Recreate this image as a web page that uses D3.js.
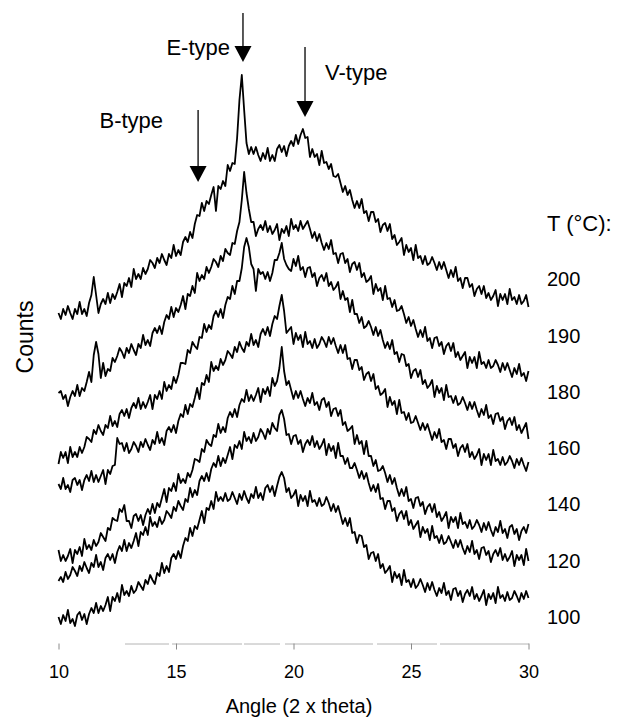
<!DOCTYPE html>
<html>
<head>
<meta charset="utf-8">
<script src="https://cdn.jsdelivr.net/npm/d3@7"></script>
<style>
body { margin: 0; background: #fff; }
text { font-family: "Liberation Sans", Arial, Helvetica, sans-serif; fill: #000; }
</style>
</head>
<body>
<script>
// XRD scans, 2-theta from 10 to 30 in 0.1 steps, curves offset by temperature
var angleStart = 10, angleStep = 0.1;
var temps = ["200", "190", "180", "160", "140", "120", "100"];

var counts200 = [
  330,324,334,328,337,330,324,334,329,341, 329,334,327,340,348,366,348,330,339,344,
  339,350,340,349,344,351,359,346,360,357, 365,356,374,364,369,364,375,369,374,383,
  380,375,385,380,389,383,378,389,385,398, 387,393,388,401,406,401,411,405,419,428,
  427,440,432,442,439,448,456,432,457,454, 462,457,478,472,480,479,505,543,568,533,
  500,489,496,489,496,488,482,490,484,495, 482,488,482,494,498,491,497,487,497,502,
  497,508,499,508,514,505,506,486,494,486, 489,478,492,480,481,474,479,467,466,469,
  460,451,457,448,453,443,435,442,435,444, 430,432,422,431,431,421,424,411,418,420,
  412,419,404,408,398,401,405,388,398,391, 395,383,398,385,387,379,387,378,380,386,
  380,373,381,374,381,373,365,373,366,376, 362,365,355,365,365,356,359,347,354,357,
  349,357,345,350,343,347,353,337,349,343, 349,339,354,343,346,339,348,339,342,348,
  336];
var counts190 = [
  250,252,244,248,237,246,252,247,258,247, 255,252,261,271,261,288,301,289,265,280,
  267,274,272,285,281,287,295,291,285,295, 290,299,293,288,299,295,308,298,303,297,
  310,315,310,317,309,321,328,324,336,326, 335,331,338,347,334,349,347,357,350,370,
  362,368,364,376,370,376,384,381,376,387, 382,394,390,388,400,399,412,421,443,471,
  450,434,421,421,407,414,418,413,422,411, 417,409,413,419,403,414,410,417,407,424,
  414,418,412,422,414,418,422,414,405,411, 402,409,400,393,400,394,403,389,390,380,
  389,390,380,384,371,379,381,373,380,366, 370,361,363,367,349,359,352,355,343,357,
  344,345,336,343,332,333,337,329,320,326, 317,323,314,306,313,306,316,302,305,295,
  305,306,297,301,289,297,300,292,300,286, 291,283,287,291,275,286,280,286,275,291,
  279,281,275,283,275,277,283,278,271,280, 273,280,273,266,275,269,279,267,270,262,
  272];
var counts180 = [
  179,191,185,191,180,196,186,191,186,196, 190,196,206,204,201,213,209,218,212,208,
  218,215,227,217,222,216,229,233,227,234, 225,235,240,235,245,234,241,235,241,248,
  234,248,244,252,244,261,252,258,254,266, 260,268,280,280,279,293,290,301,297,294,
  306,305,319,311,318,314,327,332,326,334, 325,338,346,344,357,349,362,362,375,396,
  405,396,379,374,352,374,369,371,364,371, 362,370,383,383,390,400,384,378,374,372,
  384,377,387,373,376,366,375,376,366,370, 357,365,368,362,370,357,361,353,356,361,
  344,352,343,345,331,343,329,329,320,326, 315,317,322,316,308,316,307,313,303,295,
  301,294,303,289,291,281,289,288,277,279, 265,272,274,266,273,259,263,255,258,263,
  246,257,250,255,243,258,246,247,240,247, 238,240,246,240,233,241,234,241,233,226,
  234,228,238,225,228,219,229,230,222,226, 214,222,225,218,226,213,218,210,215,220,
  204];
var counts160 = [
  159,154,165,154,158,151,163,165,158,163, 153,163,168,162,172,161,168,161,167,173,
  159,173,169,177,178,205,199,200,192,200, 190,194,201,197,191,201,196,204,198,193,
  203,199,211,200,205,198,212,216,211,218, 210,222,229,226,238,229,239,236,245,255,
  244,260,258,268,261,281,272,277,273,284, 278,283,292,289,285,296,291,301,295,291,
  301,297,309,298,303,296,309,314,308,316, 307,319,327,324,337,348,332,310,313,316,
  299,310,303,308,296,311,299,302,295,304, 295,299,306,302,296,306,299,305,297,290,
  298,290,298,284,285,274,283,283,273,276, 263,269,271,262,269,254,257,248,250,254,
  236,246,238,242,229,243,230,231,223,230, 220,221,227,220,213,220,213,219,211,203,
  211,205,214,201,203,194,204,204,195,199, 187,195,198,191,199,186,191,184,188,194,
  178,189,183,189,178,193,182,184,178,186, 178,181,187,182,175,184,178,185,178,172,
  181];
var counts140 = [
  93,82,88,82,87,94,80,93,89,96, 87,104,94,98,93,103,97,101,110,106,
  102,115,113,125,123,122,134,131,138,122, 122,115,127,129,122,128,118,128,134,129,
  139,130,140,136,145,154,141,155,152,160, 152,169,160,164,160,170,166,173,184,183,
  181,194,191,203,199,197,208,206,219,210, 216,211,225,231,226,234,226,238,244,241,
  253,242,248,242,248,255,241,254,249,256, 247,265,257,262,275,296,272,258,262,253,
  244,252,245,252,244,237,245,240,250,238, 241,233,243,245,236,241,227,234,235,227,
  233,218,221,212,214,217,199,208,199,202, 189,202,187,187,177,183,172,173,177,170,
  161,168,159,165,155,147,154,147,156,142, 144,135,145,146,137,141,129,136,139,131,
  139,126,131,122,126,131,115,126,121,126, 115,130,119,121,115,123,114,117,123,118,
  111,120,113,121,113,107,116,111,122,110, 114,105,116,118,109,114,103,112,116,110,
  119];
var counts120 = [
  62,66,61,71,64,68,76,72,67,77, 72,81,75,70,80,76,88,76,81,73,
  85,89,83,89,80,91,97,92,103,92, 100,95,102,110,97,111,108,116,108,126,
  117,121,116,126,119,123,132,129,125,136, 132,142,137,133,144,141,155,146,153,148,
  162,167,162,170,162,174,180,176,187,177, 185,180,188,196,184,198,195,202,194,211,
  202,206,200,210,202,206,214,210,204,214, 209,220,215,212,228,233,224,208,209,199,
  207,208,199,203,191,199,203,198,207,196, 202,194,198,204,188,199,192,197,185,200,
  187,187,179,185,175,175,180,173,165,172, 164,170,160,152,158,151,159,144,145,134,
  142,142,132,135,122,129,132,124,132,118, 123,114,118,122,106,116,110,114,103,117,
  105,107,100,108,99,101,107,101,95,103, 96,103,95,89,97,91,102,89,93,84,
  95,96,88,92,81,89,93,87,95,83, 89,82,86,92,77,88,83,88,78,94,
  82];
var counts100 = [
  26,19,28,22,33,20,24,17,28,31, 23,29,19,29,35,30,40,30,37,32,
  38,46,32,46,42,50,41,58,48,52, 47,57,50,53,61,57,53,63,59,68,
  63,59,70,67,80,70,77,71,85,89, 84,92,85,97,105,102,115,107,117,114,
  123,132,120,135,133,142,134,151,142,146, 142,150,142,144,151,145,139,149,143,152,
  145,140,149,145,156,145,150,143,155,158, 151,157,147,157,166,171,165,151,155,145,
  148,153,137,148,142,147,137,152,141,143, 137,145,137,139,146,140,132,139,131,137,
  128,119,125,117,125,110,111,100,108,107, 96,98,84,90,91,82,89,75,79,70,
  73,77,61,71,65,69,58,73,61,63, 56,64,55,58,64,58,51,60,53,61,
  53,47,55,50,60,48,52,43,54,55, 47,52,41,49,53,47,56,44,49,42,
  47,53,38,49,44,50,40,56,45,48, 42,51,43,45,52,47,41,50,44,52,
  45];

var peakNames = ["B-type", "E-type", "V-type"];
var peakAngles = [15.94, 17.85, 20.49];
var xTicks = [10, 15, 20, 25, 30];

var series = [counts200, counts190, counts180, counts160, counts140, counts120, counts100];

var W = 618, H = 723;
var axisY = 643;

var svg = d3.select("body").append("svg")
    .attr("width", W)
    .attr("height", H);

var x = d3.scaleLinear().domain([10, 30]).range([58.5, 528.5]);
var y = d3.scaleLinear().domain([0, axisY]).range([axisY, 0]);

// curves
var line = d3.line()
    .x(function(d, i) { return x(angleStart + i * angleStep); })
    .y(function(d) { return y(d); });

svg.selectAll(".scan")
    .data(series)
  .enter().append("path")
    .attr("class", "scan")
    .attr("d", line)
    .attr("fill", "none")
    .attr("stroke", "#000")
    .attr("stroke-width", 1.8)
    .attr("stroke-linejoin", "round");

// x axis, faint and broken as in the scan
var xAxis = d3.axisBottom(x).tickValues(xTicks).tickSize(6).tickSizeOuter(0).tickPadding(16);
var gx = svg.append("g")
    .attr("transform", "translate(0," + (axisY + 0.5) + ")")
    .call(xAxis);
gx.attr("font-family", "Liberation Sans, Arial, sans-serif")
    .attr("font-size", 18);
gx.select(".domain")
    .attr("stroke", "#b4b4b4")
    .attr("stroke-dasharray", "0,66,44,3,70,2,36,5,88,4,60,3,120");
gx.selectAll(".tick line").attr("stroke", "#8a8a8a");
gx.selectAll(".tick text").attr("fill", "#000");

svg.append("text")
    .attr("x", 299)
    .attr("y", 706)
    .attr("text-anchor", "middle")
    .attr("dominant-baseline", "central")
    .attr("font-size", 20)
    .text("Angle (2 x theta)");

svg.append("text")
    .attr("transform", "translate(25,337) rotate(-90)")
    .attr("text-anchor", "middle")
    .attr("dominant-baseline", "central")
    .attr("font-size", 23)
    .text("Counts");

// temperature labels down the right side
var labelY = d3.scalePoint().domain(["T (°C):"].concat(temps)).range([223, 617]);
svg.selectAll(".temp")
    .data(["T (°C):"].concat(temps))
  .enter().append("text")
    .attr("class", "temp")
    .attr("x", 547)
    .attr("y", function(d) { return labelY(d); })
    .attr("dominant-baseline", "central")
    .attr("font-size", function(d, i) { return i == 0 ? 22 : 20; })
    .text(function(d) { return d; });

// peak arrows
var arrowTop = [110, 13, 47], arrowTip = [182, 62, 117];
var headH = 16, headW = 8.5;
var labelPos = [{dx: -35, y: 120, anchor: "end"}, {dx: -13, y: 47, anchor: "end"}, {dx: 20, y: 72, anchor: "start"}];

peakNames.forEach(function(name, i) {
    var ax = x(peakAngles[i]);
    svg.append("line")
        .attr("x1", ax).attr("x2", ax)
        .attr("y1", arrowTop[i]).attr("y2", arrowTip[i] - headH + 1)
        .attr("stroke", "#000")
        .attr("stroke-width", 1.3);
    svg.append("path")
        .attr("d", "M" + (ax - headW) + "," + (arrowTip[i] - headH) + "L" + (ax + headW) + "," + (arrowTip[i] - headH) + "L" + ax + "," + arrowTip[i] + "Z")
        .attr("fill", "#000");
    svg.append("text")
        .attr("x", ax + labelPos[i].dx)
        .attr("y", labelPos[i].y)
        .attr("text-anchor", labelPos[i].anchor)
        .attr("dominant-baseline", "central")
        .attr("font-size", 22)
        .text(name);
});
</script>
</body>
</html>
